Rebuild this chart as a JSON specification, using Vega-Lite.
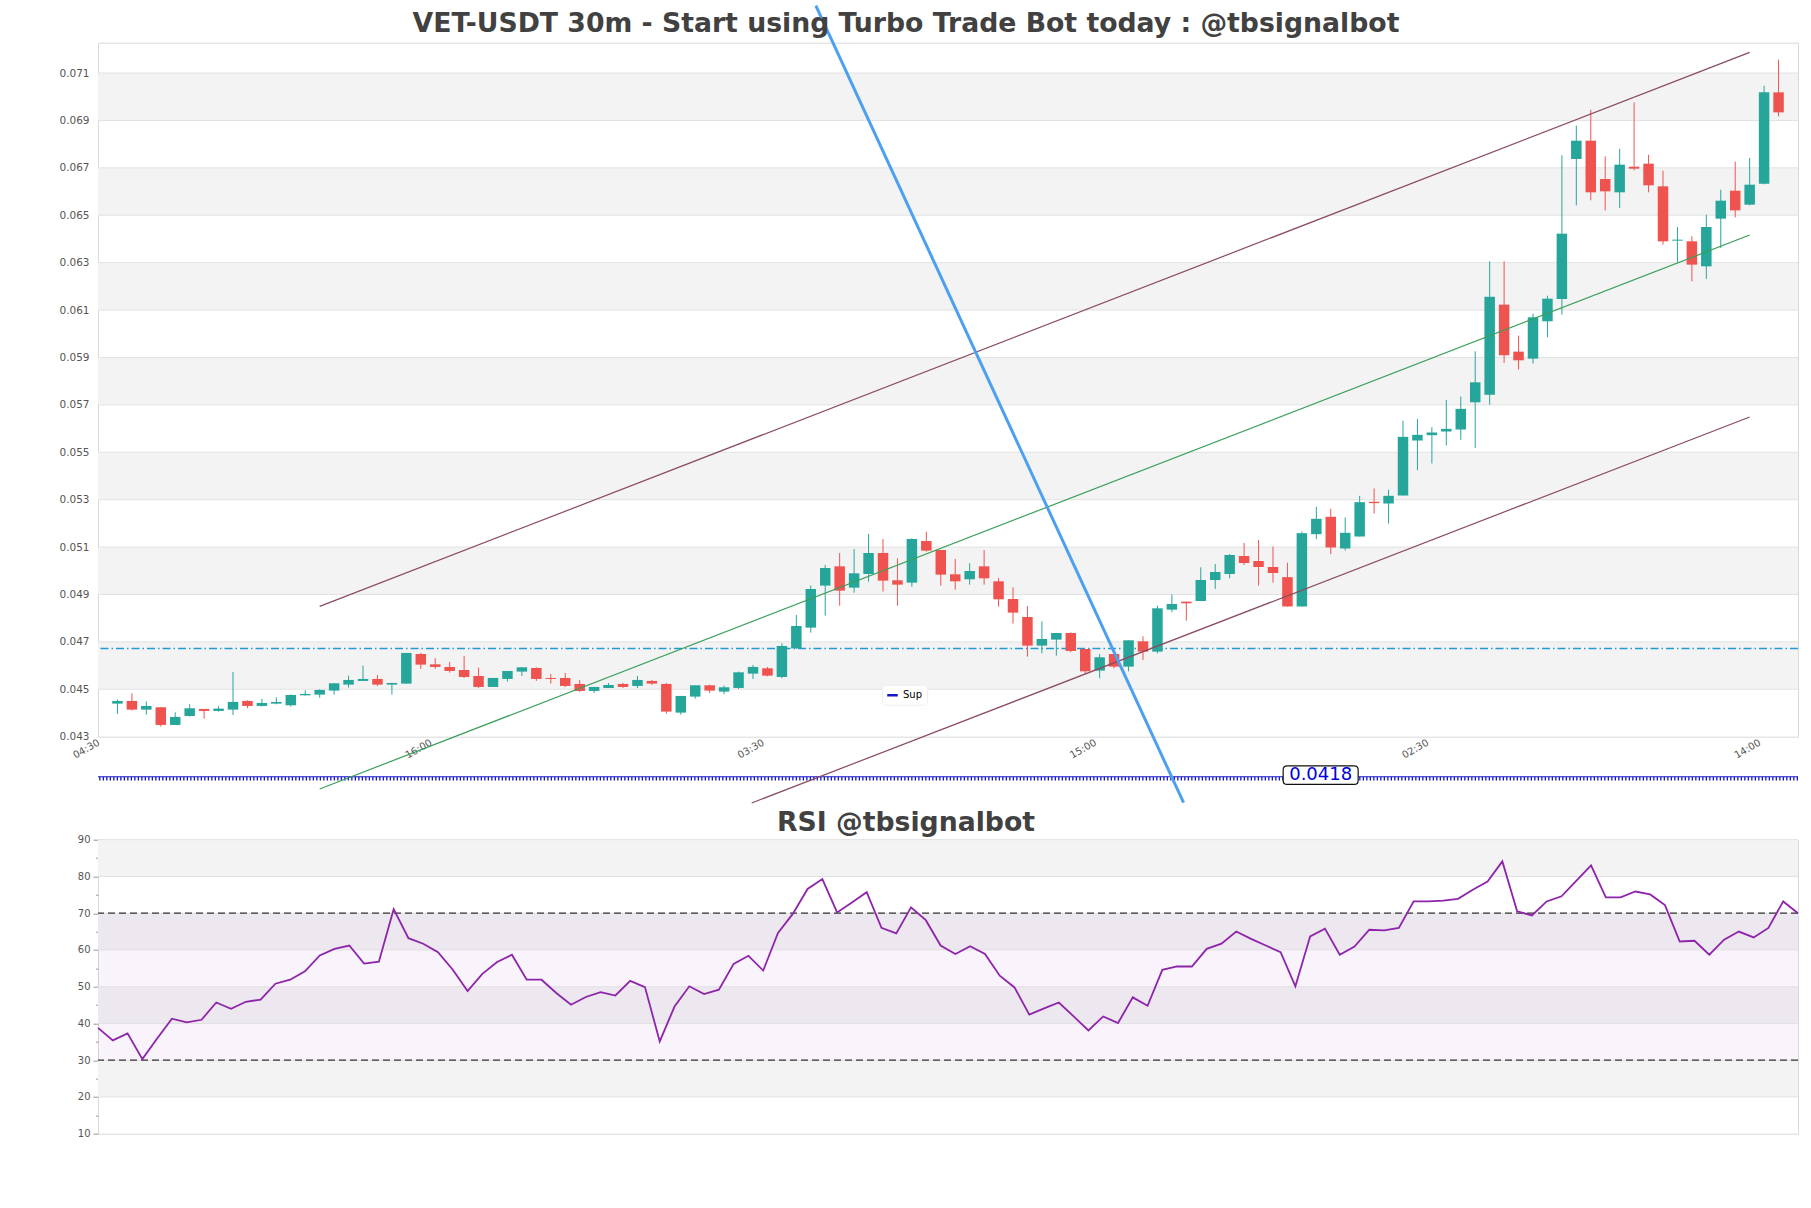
{
  "$schema": "https://vega.github.io/schema/vega-lite/v6.json",
  "background": "white",
  "padding": {"left": 58, "top": 3.7, "right": 10, "bottom": 10},
  "config": {
    "font": "DejaVu Sans",
    "view": {"stroke": "#d9d9d9", "strokeWidth": 1},
    "axis": {"labelFont": "DejaVu Sans", "labelColor": "#555555", "labelFontSize": 10.5, "grid": false, "domain": false, "ticks": false, "title": null},
    "title": {"font": "DejaVu Sans", "fontSize": 26.7, "fontWeight": "bold", "color": "#414141", "anchor": "middle", "frame": "group", "baseline": "alphabetic", "dx": -42}
  },
  "bounds": "flush",
  "spacing": 103,
  "datasets": {
    "candles": [
      {"t":"2024-03-01T05:00","o":0.044395,"h":0.04456,"l":0.04396,"c":0.044508,"rsi":38.8},
      {"t":"2024-03-01T05:30","o":0.044508,"h":0.044831,"l":0.0441,"c":0.044142,"rsi":35.4},
      {"t":"2024-03-01T06:00","o":0.044142,"h":0.044494,"l":0.043931,"c":0.044297,"rsi":37.3},
      {"t":"2024-03-01T06:30","o":0.044241,"h":0.044241,"l":0.043425,"c":0.043496,"rsi":30.3},
      {"t":"2024-03-01T07:00","o":0.043496,"h":0.04403,"l":0.043496,"c":0.043833,"rsi":35.9},
      {"t":"2024-03-01T07:30","o":0.043875,"h":0.044367,"l":0.043847,"c":0.044199,"rsi":41.3},
      {"t":"2024-03-01T08:00","o":0.04417,"h":0.04417,"l":0.043763,"c":0.044086,"rsi":40.3},
      {"t":"2024-03-01T08:30","o":0.044086,"h":0.044283,"l":0.044058,"c":0.044185,"rsi":41.0},
      {"t":"2024-03-01T09:00","o":0.044142,"h":0.045731,"l":0.043917,"c":0.044466,"rsi":45.7},
      {"t":"2024-03-01T09:30","o":0.044508,"h":0.044536,"l":0.044199,"c":0.044297,"rsi":44.0},
      {"t":"2024-03-01T10:00","o":0.044297,"h":0.044592,"l":0.044269,"c":0.044424,"rsi":45.9},
      {"t":"2024-03-01T10:30","o":0.044395,"h":0.044663,"l":0.044367,"c":0.044466,"rsi":46.5},
      {"t":"2024-03-01T11:00","o":0.044325,"h":0.044789,"l":0.044269,"c":0.044761,"rsi":50.8},
      {"t":"2024-03-01T11:30","o":0.044747,"h":0.044958,"l":0.044733,"c":0.044803,"rsi":51.9},
      {"t":"2024-03-01T12:00","o":0.044775,"h":0.045,"l":0.044648,"c":0.044972,"rsi":54.2},
      {"t":"2024-03-01T12:30","o":0.044944,"h":0.045253,"l":0.044775,"c":0.045253,"rsi":58.5},
      {"t":"2024-03-01T13:00","o":0.045197,"h":0.045576,"l":0.04507,"c":0.045394,"rsi":60.3},
      {"t":"2024-03-01T13:30","o":0.045352,"h":0.045998,"l":0.045352,"c":0.045436,"rsi":61.2},
      {"t":"2024-03-01T14:00","o":0.045436,"h":0.045605,"l":0.045141,"c":0.045197,"rsi":56.3},
      {"t":"2024-03-01T14:30","o":0.045197,"h":0.045267,"l":0.044775,"c":0.045267,"rsi":56.8},
      {"t":"2024-03-01T15:00","o":0.045239,"h":0.046533,"l":0.045239,"c":0.046533,"rsi":71.1},
      {"t":"2024-03-01T15:30","o":0.04649,"h":0.046533,"l":0.045858,"c":0.04604,"rsi":63.2},
      {"t":"2024-03-01T16:00","o":0.046054,"h":0.046308,"l":0.045858,"c":0.045942,"rsi":61.7},
      {"t":"2024-03-01T16:30","o":0.045942,"h":0.046153,"l":0.045703,"c":0.045773,"rsi":59.4},
      {"t":"2024-03-01T17:00","o":0.045815,"h":0.046406,"l":0.045478,"c":0.04552,"rsi":54.6},
      {"t":"2024-03-01T17:30","o":0.045562,"h":0.045914,"l":0.045056,"c":0.045098,"rsi":48.8},
      {"t":"2024-03-01T18:00","o":0.045098,"h":0.045478,"l":0.045098,"c":0.045478,"rsi":53.5},
      {"t":"2024-03-01T18:30","o":0.045436,"h":0.045773,"l":0.045323,"c":0.045773,"rsi":56.7},
      {"t":"2024-03-01T19:00","o":0.045745,"h":0.045928,"l":0.045562,"c":0.045928,"rsi":58.7},
      {"t":"2024-03-01T19:30","o":0.0459,"h":0.045928,"l":0.045352,"c":0.045436,"rsi":51.9},
      {"t":"2024-03-01T20:00","o":0.045478,"h":0.045647,"l":0.045239,"c":0.045436,"rsi":51.9},
      {"t":"2024-03-01T20:30","o":0.045478,"h":0.045689,"l":0.045098,"c":0.045141,"rsi":48.3},
      {"t":"2024-03-01T21:00","o":0.045225,"h":0.045394,"l":0.044888,"c":0.04493,"rsi":45.1},
      {"t":"2024-03-01T21:30","o":0.04493,"h":0.045098,"l":0.044845,"c":0.045098,"rsi":47.2},
      {"t":"2024-03-01T22:00","o":0.045056,"h":0.045267,"l":0.045056,"c":0.045183,"rsi":48.5},
      {"t":"2024-03-01T22:30","o":0.045225,"h":0.045267,"l":0.045056,"c":0.045098,"rsi":47.6},
      {"t":"2024-03-01T23:00","o":0.045141,"h":0.045562,"l":0.045056,"c":0.045394,"rsi":51.6},
      {"t":"2024-03-01T23:30","o":0.045352,"h":0.045394,"l":0.045183,"c":0.045239,"rsi":49.9},
      {"t":"2024-03-02T00:00","o":0.045225,"h":0.045267,"l":0.043974,"c":0.044058,"rsi":35.1},
      {"t":"2024-03-02T00:30","o":0.044016,"h":0.044719,"l":0.043931,"c":0.044719,"rsi":44.6},
      {"t":"2024-03-02T01:00","o":0.044691,"h":0.045169,"l":0.044606,"c":0.045169,"rsi":50.1},
      {"t":"2024-03-02T01:30","o":0.045169,"h":0.045197,"l":0.044845,"c":0.044944,"rsi":48.0},
      {"t":"2024-03-02T02:00","o":0.044902,"h":0.045155,"l":0.04479,"c":0.045084,"rsi":49.2},
      {"t":"2024-03-02T02:30","o":0.045056,"h":0.045745,"l":0.045014,"c":0.045717,"rsi":56.2},
      {"t":"2024-03-02T03:00","o":0.045661,"h":0.046026,"l":0.045436,"c":0.045942,"rsi":58.4},
      {"t":"2024-03-02T03:30","o":0.045886,"h":0.045942,"l":0.045548,"c":0.045576,"rsi":54.4},
      {"t":"2024-03-02T04:00","o":0.04552,"h":0.04694,"l":0.045464,"c":0.046828,"rsi":64.6},
      {"t":"2024-03-02T04:30","o":0.046729,"h":0.048135,"l":0.046701,"c":0.047671,"rsi":69.8},
      {"t":"2024-03-02T05:00","o":0.047601,"h":0.049373,"l":0.04739,"c":0.049232,"rsi":76.6},
      {"t":"2024-03-02T05:30","o":0.049373,"h":0.050245,"l":0.048107,"c":0.050118,"rsi":79.3},
      {"t":"2024-03-02T06:00","o":0.050188,"h":0.050751,"l":0.048529,"c":0.049162,"rsi":70.2},
      {"t":"2024-03-02T06:30","o":0.049288,"h":0.050919,"l":0.049077,"c":0.049893,"rsi":72.9},
      {"t":"2024-03-02T07:00","o":0.049865,"h":0.051552,"l":0.049541,"c":0.050751,"rsi":75.7},
      {"t":"2024-03-02T07:30","o":0.050751,"h":0.05134,"l":0.04912,"c":0.049584,"rsi":66.0},
      {"t":"2024-03-02T08:00","o":0.049598,"h":0.050526,"l":0.048529,"c":0.049415,"rsi":64.5},
      {"t":"2024-03-02T08:30","o":0.049499,"h":0.051368,"l":0.04933,"c":0.05134,"rsi":71.6},
      {"t":"2024-03-02T09:00","o":0.051257,"h":0.05165,"l":0.050807,"c":0.050849,"rsi":68.1},
      {"t":"2024-03-02T09:30","o":0.050877,"h":0.050877,"l":0.049373,"c":0.049837,"rsi":61.2},
      {"t":"2024-03-02T10:00","o":0.049851,"h":0.050497,"l":0.049204,"c":0.049556,"rsi":58.9},
      {"t":"2024-03-02T10:30","o":0.04964,"h":0.050315,"l":0.049415,"c":0.049991,"rsi":61.0},
      {"t":"2024-03-02T11:00","o":0.050188,"h":0.050877,"l":0.049415,"c":0.049682,"rsi":58.9},
      {"t":"2024-03-02T11:30","o":0.049556,"h":0.049696,"l":0.048487,"c":0.048796,"rsi":53.0},
      {"t":"2024-03-02T12:00","o":0.04881,"h":0.049302,"l":0.04777,"c":0.048234,"rsi":49.8},
      {"t":"2024-03-02T12:30","o":0.048051,"h":0.048515,"l":0.046378,"c":0.046842,"rsi":42.4},
      {"t":"2024-03-02T13:00","o":0.046842,"h":0.047868,"l":0.046518,"c":0.047123,"rsi":44.1},
      {"t":"2024-03-02T13:30","o":0.047095,"h":0.047376,"l":0.04642,"c":0.047376,"rsi":45.7},
      {"t":"2024-03-02T14:00","o":0.047376,"h":0.047404,"l":0.046561,"c":0.046617,"rsi":41.9},
      {"t":"2024-03-02T14:30","o":0.046701,"h":0.046701,"l":0.045647,"c":0.045759,"rsi":38.1},
      {"t":"2024-03-02T15:00","o":0.045787,"h":0.04649,"l":0.045464,"c":0.04635,"rsi":41.9},
      {"t":"2024-03-02T15:30","o":0.04649,"h":0.04649,"l":0.045886,"c":0.045956,"rsi":40.1},
      {"t":"2024-03-02T16:00","o":0.045956,"h":0.047067,"l":0.045759,"c":0.047067,"rsi":47.1},
      {"t":"2024-03-02T16:30","o":0.047025,"h":0.047236,"l":0.046237,"c":0.046589,"rsi":44.8},
      {"t":"2024-03-02T17:00","o":0.046589,"h":0.048529,"l":0.046518,"c":0.048417,"rsi":54.6},
      {"t":"2024-03-02T17:30","o":0.04836,"h":0.049007,"l":0.048248,"c":0.048599,"rsi":55.5},
      {"t":"2024-03-02T18:00","o":0.048698,"h":0.048698,"l":0.047896,"c":0.048627,"rsi":55.5},
      {"t":"2024-03-02T18:30","o":0.048726,"h":0.050146,"l":0.048726,"c":0.049612,"rsi":60.3},
      {"t":"2024-03-02T19:00","o":0.049612,"h":0.050287,"l":0.049232,"c":0.049949,"rsi":61.7},
      {"t":"2024-03-02T19:30","o":0.049865,"h":0.050708,"l":0.049682,"c":0.050666,"rsi":65.0},
      {"t":"2024-03-02T20:00","o":0.050624,"h":0.051172,"l":0.050245,"c":0.050329,"rsi":63.0},
      {"t":"2024-03-02T20:30","o":0.050413,"h":0.051299,"l":0.049373,"c":0.05016,"rsi":61.2},
      {"t":"2024-03-02T21:00","o":0.05016,"h":0.05102,"l":0.0495,"c":0.049907,"rsi":59.4},
      {"t":"2024-03-02T21:30","o":0.049731,"h":0.050336,"l":0.048494,"c":0.048494,"rsi":50.1},
      {"t":"2024-03-02T22:00","o":0.048494,"h":0.051657,"l":0.048494,"c":0.051587,"rsi":63.7},
      {"t":"2024-03-02T22:30","o":0.051545,"h":0.052698,"l":0.051334,"c":0.052192,"rsi":65.8},
      {"t":"2024-03-02T23:00","o":0.052276,"h":0.052613,"l":0.050701,"c":0.050982,"rsi":58.7},
      {"t":"2024-03-02T23:30","o":0.05094,"h":0.052248,"l":0.050856,"c":0.051601,"rsi":60.9},
      {"t":"2024-03-03T00:00","o":0.051446,"h":0.053162,"l":0.051446,"c":0.052895,"rsi":65.5},
      {"t":"2024-03-03T00:30","o":0.052909,"h":0.053471,"l":0.052417,"c":0.052853,"rsi":65.3},
      {"t":"2024-03-03T01:00","o":0.052839,"h":0.053415,"l":0.051995,"c":0.053162,"rsi":66.0},
      {"t":"2024-03-03T01:30","o":0.053176,"h":0.056325,"l":0.053176,"c":0.05565,"rsi":73.2},
      {"t":"2024-03-03T02:00","o":0.055496,"h":0.056409,"l":0.054244,"c":0.055735,"rsi":73.2},
      {"t":"2024-03-03T02:30","o":0.055721,"h":0.056058,"l":0.054526,"c":0.055834,"rsi":73.4},
      {"t":"2024-03-03T03:00","o":0.055876,"h":0.057211,"l":0.055285,"c":0.055988,"rsi":73.9},
      {"t":"2024-03-03T03:30","o":0.05596,"h":0.057352,"l":0.055524,"c":0.056832,"rsi":76.4},
      {"t":"2024-03-03T04:00","o":0.057109,"h":0.05926,"l":0.055182,"c":0.057952,"rsi":78.6},
      {"t":"2024-03-03T04:30","o":0.057432,"h":0.063056,"l":0.05701,"c":0.061566,"rsi":84.1},
      {"t":"2024-03-03T05:00","o":0.061229,"h":0.063056,"l":0.058768,"c":0.059091,"rsi":70.5},
      {"t":"2024-03-03T05:30","o":0.059246,"h":0.059921,"l":0.058487,"c":0.05888,"rsi":69.4},
      {"t":"2024-03-03T06:00","o":0.05895,"h":0.060849,"l":0.05874,"c":0.060694,"rsi":73.2},
      {"t":"2024-03-03T06:30","o":0.060525,"h":0.061608,"l":0.059851,"c":0.061481,"rsi":74.6},
      {"t":"2024-03-03T07:00","o":0.061467,"h":0.067527,"l":0.060807,"c":0.064223,"rsi":78.8},
      {"t":"2024-03-03T07:30","o":0.067373,"h":0.068779,"l":0.065418,"c":0.068146,"rsi":83.0},
      {"t":"2024-03-03T08:00","o":0.068146,"h":0.069453,"l":0.065629,"c":0.065967,"rsi":74.3},
      {"t":"2024-03-03T08:30","o":0.066529,"h":0.067485,"l":0.065207,"c":0.066009,"rsi":74.3},
      {"t":"2024-03-03T09:00","o":0.065967,"h":0.067808,"l":0.065306,"c":0.067134,"rsi":75.9},
      {"t":"2024-03-03T09:30","o":0.067049,"h":0.069763,"l":0.066894,"c":0.066965,"rsi":75.1},
      {"t":"2024-03-03T10:00","o":0.067176,"h":0.067555,"l":0.065967,"c":0.066262,"rsi":72.2},
      {"t":"2024-03-03T10:30","o":0.06622,"h":0.06688,"l":0.063759,"c":0.0639,"rsi":62.3},
      {"t":"2024-03-03T11:00","o":0.063928,"h":0.064504,"l":0.063028,"c":0.06397,"rsi":62.5},
      {"t":"2024-03-03T11:30","o":0.0639,"h":0.064111,"l":0.062213,"c":0.062916,"rsi":58.7},
      {"t":"2024-03-03T12:00","o":0.062845,"h":0.065025,"l":0.062311,"c":0.064504,"rsi":62.8},
      {"t":"2024-03-03T12:30","o":0.064856,"h":0.066079,"l":0.063619,"c":0.065615,"rsi":65.0},
      {"t":"2024-03-03T13:00","o":0.066037,"h":0.06726,"l":0.064912,"c":0.065207,"rsi":63.4},
      {"t":"2024-03-03T13:30","o":0.065447,"h":0.067415,"l":0.065419,"c":0.06629,"rsi":66.0},
      {"t":"2024-03-03T14:00","o":0.066332,"h":0.070466,"l":0.066304,"c":0.070185,"rsi":73.2},
      {"t":"2024-03-03T14:30","o":0.070185,"h":0.071562,"l":0.069172,"c":0.069341,"rsi":70.0}
    ],
    "bandsMain": [
      {"lo":0.045,"hi":0.047},{"lo":0.049,"hi":0.051},{"lo":0.053,"hi":0.055},{"lo":0.057,"hi":0.059},
      {"lo":0.061,"hi":0.063},{"lo":0.065,"hi":0.067},{"lo":0.069,"hi":0.071}
    ],
    "bandsRsi": [
      {"lo":20,"hi":30},{"lo":40,"hi":50},{"lo":60,"hi":70},{"lo":80,"hi":90}
    ],
    "channel": [
      {"name":"upper","t":"2024-03-01T12:00","y":0.048497},
      {"name":"upper","t":"2024-03-03T13:30","y":0.07187},
      {"name":"lower","t":"2024-03-02T02:57:18","y":0.040203},
      {"name":"lower","t":"2024-03-03T13:30","y":0.056488}
    ],
    "mid": [
      {"name":"mid","t":"2024-03-01T12:00","y":0.040794},
      {"name":"mid","t":"2024-03-03T13:30","y":0.064166}
    ],
    "trend": [
      {"name":"trend","t":"2024-03-02T05:10:30","y":0.07384},
      {"name":"trend","t":"2024-03-02T17:54:18","y":0.040215}
    ],
    "levels": [{"level":0.04672}],
    "sup": [{"name":"Sup","level":0.0418,"lt":"2024-03-02T22:39","label":"0.0418"}],
    "rsiLevels": [{"v":30},{"v":70}]
  },
  "vconcat": [
    {
      "width": 1700,
      "height": 694,
      "title": {"text": "VET-USDT 30m - Start using Turbo Trade Bot today : @tbsignalbot", "offset": -33.6},
      "layer": [
        {
          "data": {"name": "bandsMain"},
          "mark": {"type": "rect", "color": "#f3f3f3"},
          "encoding": {
            "x": {"value": 0}, "x2": {"value": "width"},
            "y": {"field": "lo", "type": "quantitative",
                  "scale": {"domain": [0.043, 0.07228], "nice": false, "zero": false},
                  "axis": {"values": [0.043,0.045,0.047,0.049,0.051,0.053,0.055,0.057,0.059,0.061,0.063,0.065,0.067,0.069,0.071], "format": ".3f", "labelPadding": 9, "labelFontSize": 10.5}},
            "y2": {"field": "hi"}
          }
        },
        {
          "data": {"name": "bandsMain"},
          "mark": {"type": "rule", "color": "#e2e2e2", "strokeWidth": 1},
          "encoding": {"y": {"field": "lo", "type": "quantitative"}}
        },
        {
          "data": {"name": "bandsMain"},
          "mark": {"type": "rule", "color": "#e2e2e2", "strokeWidth": 1},
          "encoding": {"y": {"field": "hi", "type": "quantitative"}}
        },
        {
          "data": {"name": "levels"},
          "mark": {"type": "rule", "color": "#2399d3", "strokeWidth": 1.3, "strokeDash": [8, 3, 1.5, 3]},
          "encoding": {"y": {"field": "level", "type": "quantitative"}}
        },
        {
          "data": {"name": "sup"},
          "mark": {"type": "rule", "strokeWidth": 1.2, "yOffset": 11.6, "color": "#1515c8"},
          "encoding": {"y": {"field": "level", "type": "quantitative"}}
        },
        {
          "data": {"name": "sup"},
          "mark": {"type": "rule", "strokeWidth": 3.5, "strokeDash": [1.3, 2.2], "yOffset": 13.6},
          "encoding": {
            "y": {"field": "level", "type": "quantitative"},
            "color": {"field": "name", "type": "nominal",
              "scale": {"domain": ["Sup"], "range": ["#1515c8"]},
              "legend": {"title": null, "orient": "none", "legendX": 784, "legendY": 642, "symbolType": "stroke", "symbolStrokeWidth": 2.5, "symbolSize": 110, "symbolDash": [1, 0], "symbolStrokeColor": "#0a0aa0", "labelFontSize": 10, "labelColor": "#000000", "fillColor": "white", "padding": 4, "cornerRadius": 3, "strokeColor": "#eeeeee"}}
          }
        },
        {
          "data": {"name": "candles"},
          "mark": {"type": "rule", "strokeWidth": 1},
          "encoding": {
            "x": {"field": "t", "type": "temporal",
                  "scale": {"domain": [{"year": 2024, "month": 3, "date": 1, "hours": 4, "minutes": 30}, {"year": 2024, "month": 3, "date": 3, "hours": 15, "minutes": 0}], "nice": false},
                  "axis": {"values": [
                    {"year": 2024, "month": 3, "date": 1, "hours": 4, "minutes": 30},
                    {"year": 2024, "month": 3, "date": 1, "hours": 16, "minutes": 0},
                    {"year": 2024, "month": 3, "date": 2, "hours": 3, "minutes": 30},
                    {"year": 2024, "month": 3, "date": 2, "hours": 15, "minutes": 0},
                    {"year": 2024, "month": 3, "date": 3, "hours": 2, "minutes": 30},
                    {"year": 2024, "month": 3, "date": 3, "hours": 14, "minutes": 0}],
                    "format": "%H:%M", "labelAngle": -30, "labelAlign": "right", "labelBaseline": "bottom", "labelPadding": 9, "labelOffset": -2, "labelFontSize": 10, "labelFlush": false, "labelOverlap": false}},
            "y": {"field": "l", "type": "quantitative"},
            "y2": {"field": "h"},
            "color": {"condition": {"test": "datum.c >= datum.o", "value": "#26a69a"}, "value": "#ef5350"}
          }
        },
        {
          "data": {"name": "candles"},
          "mark": {"type": "bar", "width": 10.5},
          "encoding": {
            "x": {"field": "t", "type": "temporal"},
            "y": {"field": "o", "type": "quantitative"},
            "y2": {"field": "c"},
            "color": {"condition": {"test": "datum.c >= datum.o", "value": "#26a69a"}, "value": "#ef5350"}
          }
        },
        {
          "data": {"name": "channel"},
          "mark": {"type": "line", "color": "#8a4a5d", "strokeWidth": 1.2},
          "encoding": {
            "x": {"field": "t", "type": "temporal"},
            "y": {"field": "y", "type": "quantitative"},
            "detail": {"field": "name"}
          }
        },
        {
          "data": {"name": "mid"},
          "mark": {"type": "line", "color": "#3a9f5a", "strokeWidth": 1.2},
          "encoding": {
            "x": {"field": "t", "type": "temporal"},
            "y": {"field": "y", "type": "quantitative"}
          }
        },
        {
          "data": {"name": "trend"},
          "mark": {"type": "line", "color": "#4da0f0", "strokeWidth": 3, "strokeJoin": "round"},
          "encoding": {
            "x": {"field": "t", "type": "temporal"},
            "y": {"field": "y", "type": "quantitative"}
          }
        },
        {
          "data": {"name": "sup"},
          "mark": {"type": "point", "filled": false, "fill": "white", "fillOpacity": 1, "stroke": "#111111", "strokeWidth": 1.2, "opacity": 1, "size": 5625, "yOffset": 10,
                   "shape": "M-0.893,-0.248H0.893Q1,-0.248 1,-0.141V0.141Q1,0.248 0.893,0.248H-0.893Q-1,0.248 -1,0.141V-0.141Q-1,-0.248 -0.893,-0.248Z"},
          "encoding": {
            "x": {"field": "lt", "type": "temporal"},
            "y": {"field": "level", "type": "quantitative"}
          }
        },
        {
          "data": {"name": "sup"},
          "mark": {"type": "text", "fontSize": 18, "color": "#0000dd", "align": "center", "baseline": "middle", "yOffset": 10},
          "encoding": {
            "x": {"field": "lt", "type": "temporal"},
            "y": {"field": "level", "type": "quantitative"},
            "text": {"field": "label"}
          }
        }
      ]
    },
    {
      "width": 1700,
      "height": 294,
      "title": {"text": "RSI @tbsignalbot", "offset": -1.8},
      "resolve": {"axis": {"y": "independent"}},
      "layer": [
        {
          "data": {"name": "bandsRsi"},
          "mark": {"type": "rect", "color": "#f3f3f3"},
          "encoding": {
            "x": {"value": 0}, "x2": {"value": "width"},
            "y": {"field": "lo", "type": "quantitative",
                  "scale": {"domain": [10, 90], "nice": false, "zero": false},
                  "axis": {"orient": "left", "values": [10,20,30,40,50,60,70,80,90], "ticks": true, "tickSize": 5, "tickColor": "#999999", "labelPadding": 3, "labelFontSize": 10}},
            "y2": {"field": "hi"}
          }
        },
        {
          "data": {"name": "rsiLevels"},
          "mark": {"type": "rect", "color": "#a66cc0", "opacity": 0.04},
          "encoding": {
            "x": {"value": 0}, "x2": {"value": "width"},
            "y": {"datum": 30, "type": "quantitative", "axis": null},
            "y2": {"datum": 70}
          }
        },
        {
          "data": {"name": "bandsRsi"},
          "mark": {"type": "rule", "color": "#e2e2e2", "strokeWidth": 1},
          "encoding": {"y": {"field": "lo", "type": "quantitative", "axis": null}}
        },
        {
          "data": {"name": "bandsRsi"},
          "mark": {"type": "rule", "color": "#e2e2e2", "strokeWidth": 1},
          "encoding": {"y": {"field": "hi", "type": "quantitative", "axis": null}}
        },
        {
          "data": {"name": "rsiLevels"},
          "mark": {"type": "rule", "color": "#333333", "strokeWidth": 1.2, "strokeDash": [7, 4]},
          "encoding": {"y": {"field": "v", "type": "quantitative",
            "axis": {"orient": "left", "values": [15,25,35,45,55,65,75,85], "labels": false, "ticks": true, "tickSize": 2.5, "tickColor": "#999999", "domain": false, "grid": false}}}
        },
        {
          "data": {"name": "candles"},
          "mark": {"type": "line", "color": "#8e24aa", "strokeWidth": 1.8},
          "encoding": {
            "x": {"field": "t", "type": "temporal",
                  "scale": {"domain": [{"year": 2024, "month": 3, "date": 1, "hours": 5, "minutes": 0}, {"year": 2024, "month": 3, "date": 3, "hours": 14, "minutes": 30}], "nice": false},
                  "axis": null},
            "y": {"field": "rsi", "type": "quantitative", "axis": null}
          }
        }
      ]
    }
  ],
  "resolve": {"scale": {"x": "independent", "y": "independent", "color": "independent"}, "legend": {"color": "independent"}}
}
